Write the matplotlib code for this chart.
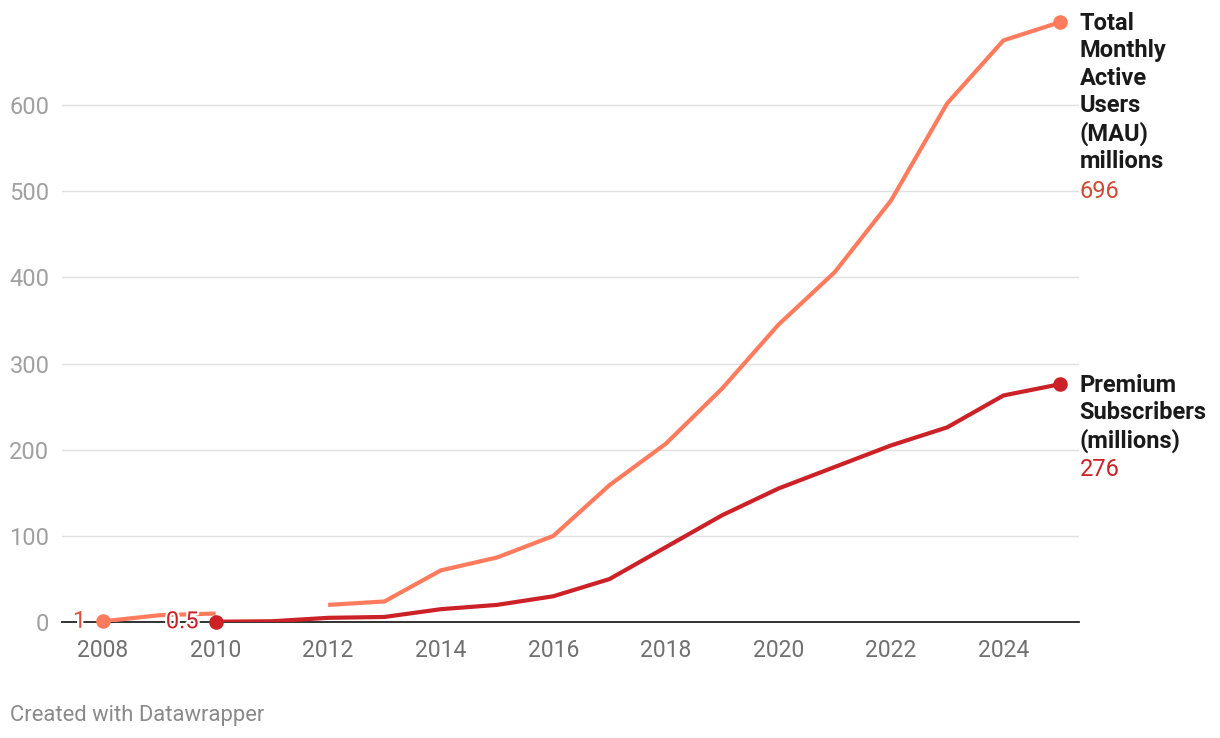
import numpy as np
import matplotlib.pyplot as plt
import matplotlib.patheffects as pe

plt.rcParams['font.family'] = ['Roboto', 'DejaVu Sans']

# Данные
years = list(range(2008, 2026))
mau = [1, 8, 10, None, 20, 24, 60, 75, 100, 159, 207, 271, 345, 406, 489, 602, 675, 696]
premium_years = list(range(2010, 2026))
premium = [0.5, 1, 5, 6, 15, 20, 30, 50, 87, 124, 155, 180, 205, 226, 263, 276]

mau_color = '#ff7b5e'
prem_color = '#cc2127'

fig = plt.figure(figsize=(12.2, 7.38), dpi=100)
ax = fig.add_axes([0.0508, 0.157, 0.834, 0.8175])

mau_arr = np.array([np.nan if v is None else v for v in mau], dtype=float)
ax.plot(years, mau_arr, color=mau_color, lw=3, solid_capstyle='butt', zorder=3)
ax.plot(premium_years, premium, color=prem_color, lw=3, zorder=4)

# точки на концах
ax.scatter([years[0], years[-1]], [mau[0], mau[-1]], s=110, color=mau_color, zorder=5, lw=0,
           clip_on=False)
ax.scatter([premium_years[0], premium_years[-1]], [premium[0], premium[-1]], s=110,
           color=prem_color, zorder=6, lw=0, clip_on=False)

halo = [pe.withStroke(linewidth=3, foreground='white')]
ax.text(years[0] - 0.3, mau[0], '1', color='#d9533d', fontsize=17, ha='right', va='center',
        path_effects=halo, zorder=7)
ax.text(premium_years[0] - 0.3, premium[0], '0.5', color=prem_color, fontsize=17, ha='right',
        va='center', path_effects=halo, zorder=7)

ax.set_xlim(2007.27, 2025.35)
ax.set_ylim(0, 700)
ax.set_yticks(range(0, 700, 100))
ax.set_xticks(range(2008, 2026, 2))
ax.grid(axis='y', color='#e0e0e0', lw=1)
ax.set_axisbelow(True)
for s in ['top', 'right', 'left']:
    ax.spines[s].set_visible(False)
ax.spines['bottom'].set_color('#222222')
ax.spines['bottom'].set_linewidth(1.3)
ax.spines['bottom'].set_zorder(2)
ax.tick_params(axis='y', length=0, labelsize=17, labelcolor='#a0a0a0', pad=9)
ax.tick_params(axis='x', length=0, labelsize=16.5, labelcolor='#707070', pad=12)

# подписи серий справа
ytr = ax.get_yaxis_transform()
ax.text(1.0, mau[-1] + 12, 'Total\nMonthly\nActive\nUsers\n(MAU)\nmillions', transform=ytr,
        fontsize=17, fontweight='bold', color='#1a1a1a', va='top', ha='left', linespacing=1.24,
        clip_on=False)
ax.text(1.0, 500 - 0.5, '696', transform=ytr, fontsize=17,
        color='#d04a37', va='center', ha='left')
ax.text(1.0, premium[-1] + 12, 'Premium\nSubscribers\n(millions)', transform=ytr,
        fontsize=17, fontweight='bold', color='#1a1a1a', va='top', ha='left', linespacing=1.24,
        clip_on=False)
ax.text(1.0, premium[-1] - 99, '276', transform=ytr, fontsize=17,
        color=prem_color, va='center', ha='left')

fig.text(0.008, 0.031, 'Created with Datawrapper', fontsize=15.8, color='#8a8a8a', ha='left', va='center')

fig.savefig('out.png', dpi=100)
